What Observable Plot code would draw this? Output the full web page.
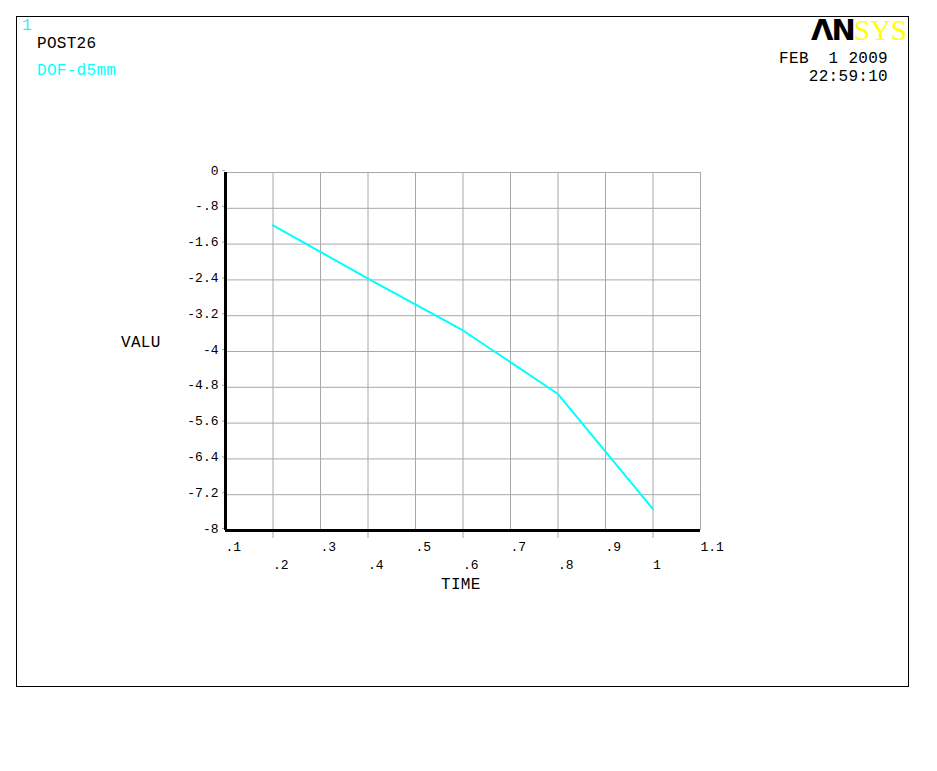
<!DOCTYPE html>
<html>
<head>
<meta charset="utf-8">
<script src="https://cdn.jsdelivr.net/npm/d3@7"></script>
<script src="https://cdn.jsdelivr.net/npm/@observablehq/plot@0.6"></script>
<style>
  html, body { margin: 0; padding: 0; background: #fff; }
  #wrap { position: relative; width: 937px; height: 771px; overflow: hidden; }
  #frame { position: absolute; left: 16px; top: 16px; width: 891px; height: 669px; border: 1px solid #000; pointer-events: none; }
  .t { position: absolute; font-family: "Liberation Mono", "DejaVu Sans Mono", monospace; font-size: 16px; line-height: 16px; white-space: pre; letter-spacing: 0.3px; }
  #logo { position: absolute; right: 30px; top: 16px; font-size: 29px; line-height: 29px; white-space: pre; }
</style>
</head>
<body>
<div id="wrap">
  <div id="chart"></div>
  <div id="frame"></div>
  <div class="t" style="left:22px;top:18px;color:#00ffff;">1</div>
  <div class="t" style="left:37px;top:36px;color:#000;">POST26</div>
  <div class="t" style="left:37px;top:63px;color:#00ffff;">DOF-d5mm</div>
  <div id="logo"><span style="font-family:'DejaVu Sans';font-weight:bold;color:#000;letter-spacing:-2px;">ΛN</span><span style="font-family:'Liberation Serif';color:#ffff00;">SYS</span></div>
  <div class="t" style="right:49px;top:51px;color:#000;">FEB  1 2009</div>
  <div class="t" style="right:49px;top:69px;color:#000;">22:59:10</div>
  <div class="t" style="left:121px;top:335px;color:#000;">VALU</div>
  <div class="t" style="left:441px;top:577px;color:#000;">TIME</div>
</div>
<script>
const time = [0.2, 0.4, 0.6, 0.8, 1.0];
const valu = [-1.18, -2.37, -3.53, -4.95, -7.52];
const xTicksOdd = [0.1, 0.3, 0.5, 0.7, 0.9, 1.1];
const xTicksEven = [0.2, 0.4, 0.6, 0.8, 1.0];
const xGrid = [0.2, 0.3, 0.4, 0.5, 0.6, 0.7, 0.8, 0.9, 1.0, 1.1];
const yTicks = [0, -0.8, -1.6, -2.4, -3.2, -4, -4.8, -5.6, -6.4, -7.2, -8];
const yGrid = [0, -0.8, -1.6, -2.4, -3.2, -4, -4.8, -5.6, -6.4, -7.2];

const data = time.map((t, i) => ({time: t, valu: valu[i]}));
const fmt = d => {
  if (d === 0) return "0";
  let s = String(+d.toFixed(2));
  return s.replace(/^(-?)0\./, "$1.");
};

const chart = Plot.plot({
  width: 937,
  height: 771,
  marginLeft: 225,
  marginRight: 237,
  marginTop: 172,
  marginBottom: 241,
  style: {fontFamily: "'Liberation Mono', 'DejaVu Sans Mono', monospace", fontSize: "13px", color: "#000", background: "transparent"},
  x: {domain: [0.1, 1.1]},
  y: {domain: [-8, 0]},
  marks: [
    Plot.gridX(xGrid, {stroke: "#a8a8a8", strokeOpacity: 1, strokeWidth: 1}),
    Plot.gridY(yGrid, {stroke: "#a8a8a8", strokeOpacity: 1, strokeWidth: 1}),
    Plot.axisX(xTicksEven, {tickSize: 8, stroke: "#a8a8a8", strokeWidth: 1, tickFormat: () => "", label: null}),
    Plot.axisX(xTicksOdd, {tickSize: 0, tickPadding: 11, tickFormat: fmt, textAnchor: "start", label: null, fill: "#000"}),
    Plot.axisX(xTicksEven, {tickSize: 0, tickPadding: 29, tickFormat: fmt, textAnchor: "start", label: null, fill: "#000"}),
    Plot.axisY(yTicks, {tickSize: 3, stroke: "#a8a8a8", tickPadding: 4, dy: -2, tickFormat: fmt, label: null, fill: "#000"}),
    Plot.ruleX([0.1], {stroke: "#000", strokeWidth: 3}),
    Plot.ruleY([-8], {stroke: "#000", strokeWidth: 3}),
    Plot.line(data, {x: "time", y: "valu", stroke: "#00ffff", strokeWidth: 2})
  ]
});
document.getElementById("chart").appendChild(chart);
</script>
</body>
</html>
